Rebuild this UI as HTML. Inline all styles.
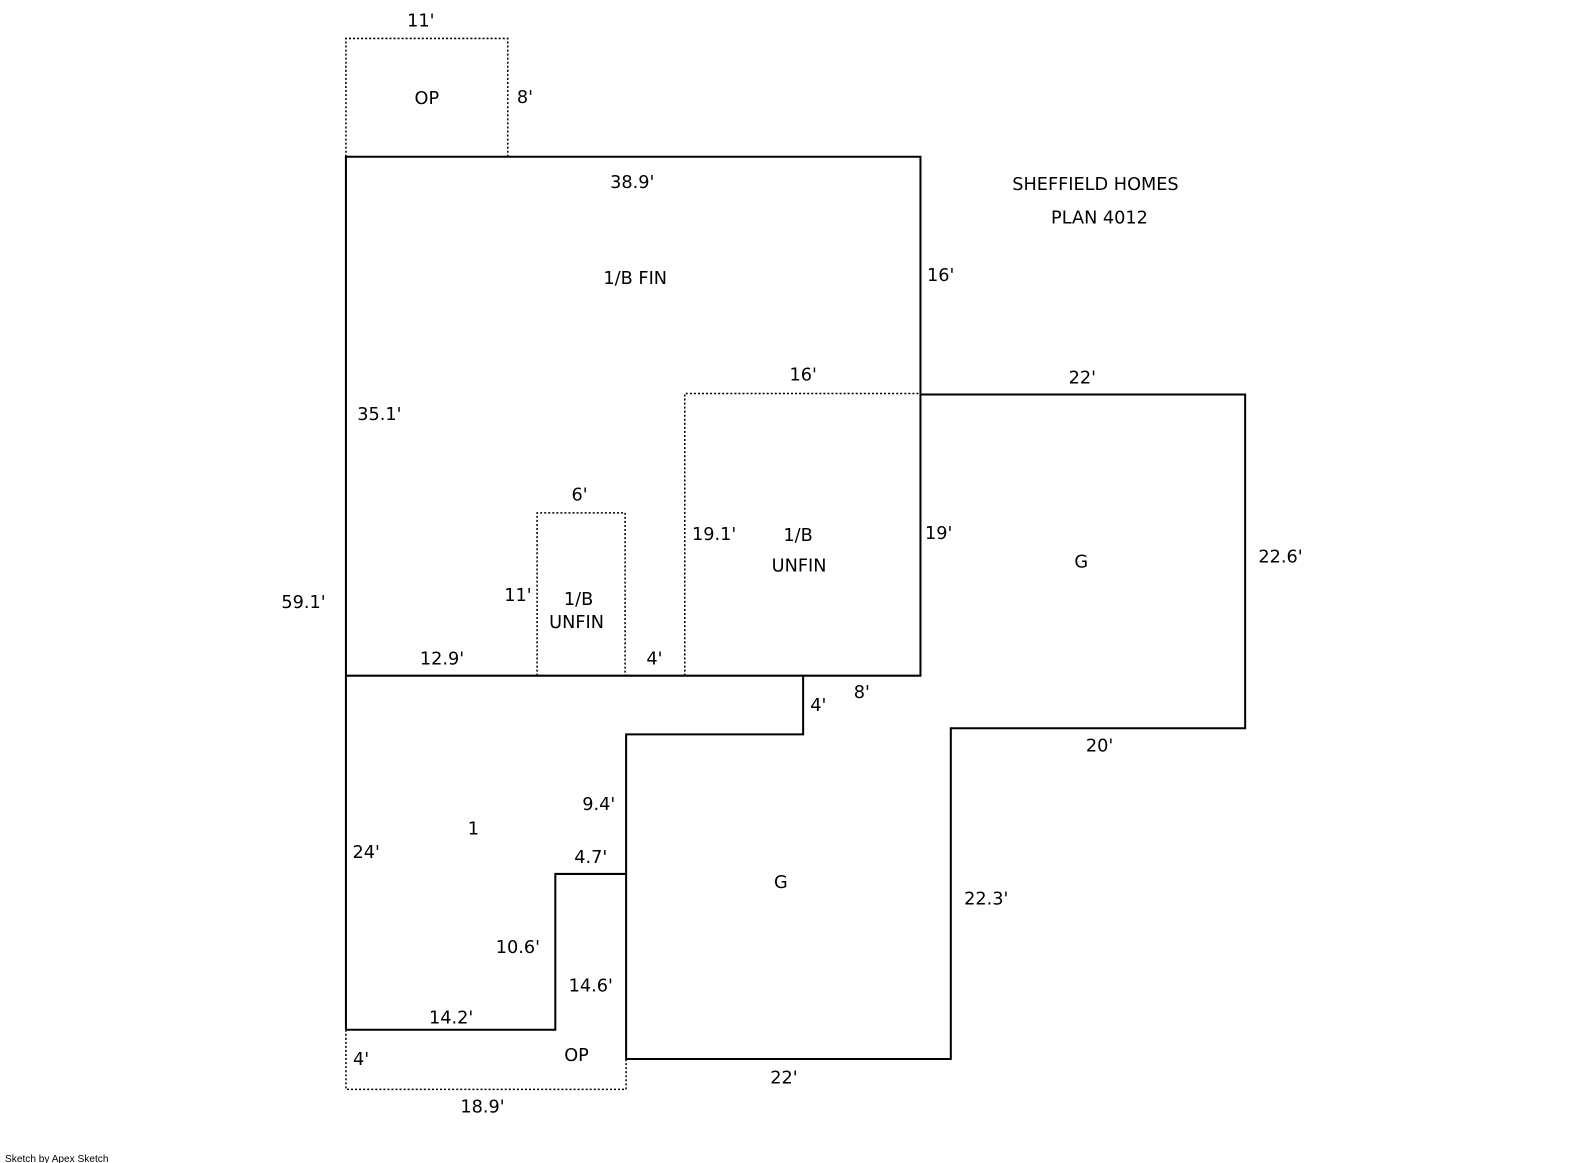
<!DOCTYPE html>
<html><head><style>
html,body{margin:0;padding:0;background:#fff;width:1585px;height:1163px;overflow:hidden}
svg{display:block}
svg text{font-family:"DejaVu Sans","Liberation Sans",sans-serif;font-size:17.5px;fill:#000}
</style></head><body>
<svg width="1585" height="1163" viewBox="0 0 1585 1163">
<g transform="scale(1.0115)">
<g fill="none" stroke="#000" stroke-width="1.5" stroke-dasharray="2,2">
<polyline points="342,155 342,38 502,38 502,155"/>
<polyline points="531,668 531,507 618,507 618,668"/>
<polyline points="677,668 677,389 910,389"/>
<polyline points="342,1018 342,1077 619,1077 619,1047"/>
</g>
<g fill="none" stroke="#000" stroke-width="2">
<polyline points="342,1018 342,155 910,155 910,668 342,668"/>
<polyline points="794,668 794,726 619,726 619,1047 940,1047 940,720 1231,720 1231,390 910,390"/>
<polyline points="342,1018 549,1018 549,864 619,864"/>
</g>
<g text-anchor="middle">
<text x="416" y="26">11'</text>
<text x="422" y="103">OP</text>
<text x="519" y="102">8'</text>
<text x="625" y="186">38.9'</text>
<text x="628" y="281">1/B FIN</text>
<text x="930" y="278">16'</text>
<text x="1083" y="188">SHEFFIELD HOMES</text>
<text x="1087" y="221">PLAN 4012</text>
<text x="794" y="376">16'</text>
<text x="1070" y="379">22'</text>
<text x="375" y="415">35.1'</text>
<text x="573" y="495">6'</text>
<text x="706" y="534">19.1'</text>
<text x="789" y="535">1/B</text>
<text x="790" y="565">UNFIN</text>
<text x="928" y="533">19'</text>
<text x="1069" y="561">G</text>
<text x="1266" y="556">22.6'</text>
<text x="300" y="601">59.1'</text>
<text x="512" y="594">11'</text>
<text x="572" y="598">1/B</text>
<text x="570" y="621">UNFIN</text>
<text x="437" y="657">12.9'</text>
<text x="647" y="657">4'</text>
<text x="852" y="690">8'</text>
<text x="809" y="703">4'</text>
<text x="1087" y="743">20'</text>
<text x="592" y="801">9.4'</text>
<text x="468" y="825">1</text>
<text x="362" y="848">24'</text>
<text x="584" y="853">4.7'</text>
<text x="772" y="878">G</text>
<text x="975" y="894">22.3'</text>
<text x="512" y="942">10.6'</text>
<text x="584" y="980">14.6'</text>
<text x="446" y="1012">14.2'</text>
<text x="357" y="1053">4'</text>
<text x="570" y="1049">OP</text>
<text x="775" y="1071">22'</text>
<text x="477" y="1100">18.9'</text>
</g>
<text x="5" y="1149" style="font-size:10px;font-family:'Liberation Sans',sans-serif">Sketch by Apex Sketch</text>
</g>
</svg>
</body></html>
